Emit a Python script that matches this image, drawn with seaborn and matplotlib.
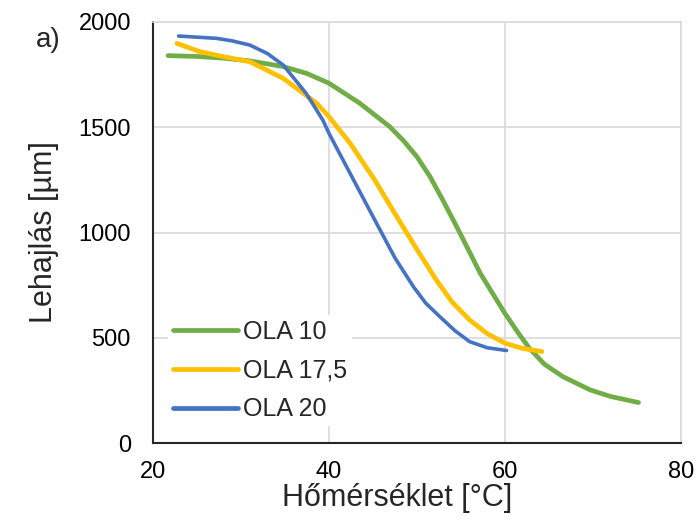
import numpy as np
import pandas as pd
import matplotlib
matplotlib.use("Agg")
import matplotlib.pyplot as plt
import seaborn as sns

# values
ola10_x = [21.7, 25, 28, 31, 34.8, 37.5, 40, 43.5, 46.9, 48.5, 50, 51.5, 53, 54.5, 57.2, 60, 61.5, 62.8, 64.5, 66.6, 69.7, 72, 75.2]
ola10_y = [1840, 1836, 1828, 1815, 1788, 1755, 1709, 1614, 1503, 1435, 1360, 1265, 1150, 1030, 807, 617, 525, 450, 375, 316, 253, 222, 193]

ola175_x = [22.7, 25.3, 28, 31, 34.8, 38.6, 40, 42.4, 45.2, 47.7, 50, 52.2, 54, 56, 58, 60, 62, 64.2]
ola175_y = [1898, 1859, 1835, 1811, 1732, 1614, 1550, 1424, 1250, 1076, 920, 775, 670, 585, 520, 475, 450, 435]

ola20_x = [22.9, 27.2, 29, 31, 33, 34.8, 37.4, 39.3, 40, 42.4, 45, 47.5, 49.6, 51, 52.6, 54.3, 56, 58, 60.2]
ola20_y = [1933, 1922, 1910, 1890, 1850, 1795, 1661, 1534, 1471, 1281, 1076, 880, 743, 665, 601, 535, 482, 453, 440]

labels = ["OLA 10", "OLA 17,5", "OLA 20"]
colors = ["#70AD47", "#FFC000", "#4472C4"]

frames = []
for lab, xs, ys in zip(labels, [ola10_x, ola175_x, ola20_x], [ola10_y, ola175_y, ola20_y]):
    frames.append(pd.DataFrame({"T": xs, "D": ys, "minta": lab}))
df = pd.concat(frames, ignore_index=True)

sns.set_style("white")
plt.rcParams["font.family"] = ["Liberation Sans", "DejaVu Sans"]

fig = plt.figure(figsize=(6.96, 5.22), dpi=100)
ax = fig.add_axes([0.22, 0.151, 0.758, 0.807])

sns.lineplot(data=df, x="T", y="D", hue="minta", palette=colors, sort=False,
             estimator=None, linewidth=3.2, ax=ax, solid_capstyle="round", zorder=3)
for line, w in zip(ax.get_lines(), [3.4, 3.4, 2.6]):
    line.set_linewidth(w)
    line.set_solid_joinstyle("round")

ax.set_xlim(20, 80)
ax.set_ylim(0, 2000)
ax.set_xticks([20, 40, 60, 80])
ax.set_yticks([0, 500, 1000, 1500, 2000])
ax.grid(True, color="#d9d9d9", linewidth=1.2, zorder=0)
ax.set_axisbelow(True)
for s in ["top", "right"]:
    ax.spines[s].set_color("#d9d9d9")
    ax.spines[s].set_linewidth(1.2)
for s in ["left", "bottom"]:
    ax.spines[s].set_color("#262626")
    ax.spines[s].set_linewidth(1.5)
ax.tick_params(length=0, labelsize=17, colors="#000000")
ax.tick_params(axis="y", pad=16)
ax.tick_params(axis="x", pad=13)

ax.set_xlabel("Hőmérséklet [°C]", fontsize=22)
ax.set_ylabel("Lehajlás [µm]", fontsize=22, labelpad=14)
ax.xaxis.set_label_coords(0.462, -0.095)

leg = ax.legend(loc="lower left", bbox_to_anchor=(0.004, 0.01), fontsize=18,
                frameon=True, facecolor="white", edgecolor="none", framealpha=1,
                handlelength=2.6, handletextpad=0.2, labelspacing=0.59, borderpad=0.2)
for h in leg.get_lines():
    h.set_linewidth(3.4)
    h.set_solid_capstyle("round")

fig.text(0.052, 0.91, "a)", fontsize=20)

fig.savefig("out.png", dpi=100)
